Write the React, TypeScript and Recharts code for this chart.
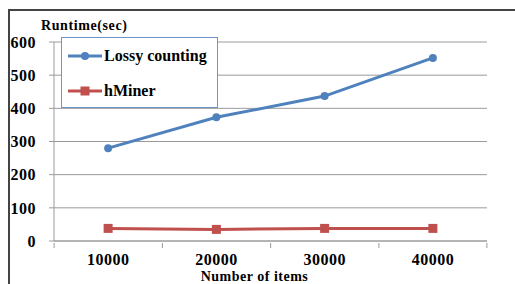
import { LineChart, Line, XAxis, YAxis, CartesianGrid, Legend } from 'recharts'

const items = [10000, 20000, 30000, 40000]
const lossyCounting = [280, 373, 437, 552]
const hMiner = [38, 35, 38, 38]
const yTicks = [0, 100, 200, 300, 400, 500, 600]

const data = items.map((n, i) => ({ items: n, lossy: lossyCounting[i], hminer: hMiner[i] }))

const BLUE = '#4F81BD'
const RED = '#C0504D'
const GRID = '#9a9a9a'
const FONT = 'Liberation Serif, serif'
const HALF_BAND = 54

function XTick(props: any) {
  const { x, y, payload } = props
  const isLast = payload.value === items[items.length - 1]
  return (
    <g>
      <line x1={x - HALF_BAND} x2={x - HALF_BAND} y1={y} y2={y + 5} stroke={GRID} />
      {isLast && <line x1={x + HALF_BAND} x2={x + HALF_BAND} y1={y} y2={y + 5} stroke={GRID} />}
      <text x={x} y={y + 22} textAnchor="middle" fontFamily={FONT} fontWeight="bold" fontSize={16} fill="#000" letterSpacing={0.5}>
        {payload.value}
      </text>
    </g>
  )
}

function SquareDot(props: any) {
  const { cx, cy, index } = props
  return <rect key={`sq-${index}`} x={cx - 4.5} y={cy - 4.5} width={9} height={9} fill={RED} />
}

function LegendBox() {
  return (
    <div style={{ width: 155, height: 69, border: '1px solid #6f94c8', background: '#fff', position: 'relative' }}>
      <svg width={155} height={69} style={{ position: 'absolute', left: 0, top: 0 }}>
        <line x1={6} x2={40} y1={18} y2={18} stroke={BLUE} strokeWidth={3} />
        <circle cx={23} cy={18} r={4} fill={BLUE} />
        <text x={42} y={23} fontFamily={FONT} fontWeight="bold" fontSize={16} fill="#000">Lossy counting</text>
        <line x1={6} x2={40} y1={53} y2={53} stroke={RED} strokeWidth={3} />
        <rect x={18.5} y={48.5} width={9} height={9} fill={RED} />
        <text x={42} y={58} fontFamily={FONT} fontWeight="bold" fontSize={16} fill="#000">hMiner</text>
      </svg>
    </div>
  )
}

export default function App() {
  return (
    <div style={{ position: 'absolute', left: 0, top: 0, width: 515, height: 284, background: '#fff', overflow: 'hidden' }}>
      <div style={{ position: 'absolute', left: 8, top: 9, width: 520, height: 290, borderTop: '2px solid #444', borderLeft: '2px solid #444' }} />
      <LineChart width={515} height={284} data={data} margin={{ top: 42, right: 28, bottom: 0, left: 0 }}>
        <CartesianGrid horizontal vertical={false} stroke={GRID} />
        <XAxis
          dataKey="items"
          type="number"
          domain={[5000, 45000]}
          ticks={items}
          height={43}
          axisLine={{ stroke: GRID }}
          tickLine={false}
          tickSize={0}
          tick={<XTick />}
          label={{
            content: (p: any) => (
              <text x={p.viewBox.x + p.viewBox.width / 2 - 16} y={281} textAnchor="middle" fontFamily={FONT} fontWeight="bold" fontSize={14} fill="#000" letterSpacing={0.5}>
                Number  of items
              </text>
            ),
          }}
        />
        <YAxis
          width={54}
          domain={[0, 600]}
          ticks={yTicks}
          interval={0}
          axisLine={{ stroke: GRID }}
          tickLine={{ stroke: GRID }}
          tickSize={5}
          tickMargin={13}
          tick={{ fontFamily: FONT, fontWeight: 'bold', fontSize: 16, fill: '#000', letterSpacing: 0.5 }}
          label={{
            content: () => (
              <text x={41} y={30} fontFamily={FONT} fontWeight="bold" fontSize={14} fill="#000" letterSpacing={0.6}>
                Runtime(sec)
              </text>
            ),
          }}
        />
        <Legend
          layout="vertical"
          align="center"
          verticalAlign="middle"
          wrapperStyle={{ left: 61, top: 37, width: 157, height: 71 }}
          content={() => <LegendBox />}
        />
        <Line dataKey="lossy" stroke={BLUE} strokeWidth={3} dot={{ r: 4, fill: BLUE, stroke: BLUE, strokeWidth: 0 }} isAnimationActive={false} />
        <Line dataKey="hminer" stroke={RED} strokeWidth={3} dot={<SquareDot />} isAnimationActive={false} />
      </LineChart>
    </div>
  )
}
